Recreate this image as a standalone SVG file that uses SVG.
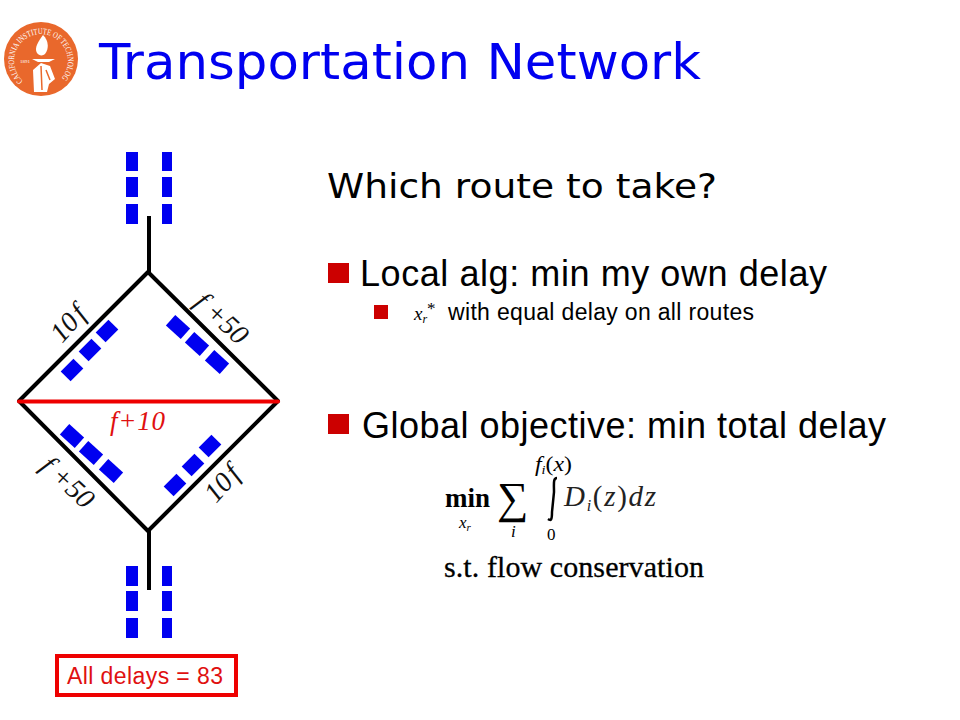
<svg xmlns="http://www.w3.org/2000/svg" width="960" height="720" viewBox="0 0 960 720">
<style>
.road{stroke:#000;stroke-width:4;fill:none}
.car{fill:#0000f0}
.bul{fill:#cc0000}
.sans{font-family:"Liberation Sans",Arial,sans-serif;fill:#000}
.dv{font-family:"DejaVu Sans",sans-serif}
.ser{font-family:"Liberation Serif","Times New Roman",serif;fill:#000}
.it{font-style:italic}
.lab{font-family:"Liberation Serif","Times New Roman",serif;font-style:italic;font-size:28px;fill:#111}
</style>
<rect width="960" height="720" fill="#fff"/>
<g id="logo">
<circle cx="41" cy="59" r="37" fill="#e9682c"/>
<path id="logoArc" d="M19.500 85A32 32 0 1 1 63.500 84" fill="none" transform="translate(41 59) scale(.84) translate(-41 -59)"/>
<text font-family="Liberation Serif,serif" font-size="8.500" fill="#fff"><textPath href="#logoArc" textLength="130" lengthAdjust="spacingAndGlyphs">CALIFORNIA INSTITUTE OF TECHNOLOGY</textPath></text>
<text x="20" y="63" font-family="Liberation Serif,serif" font-size="5" fill="#fff">1891</text>
<path d="M43 35C49 41 49 49 45 54C43 56 39 56 37 53C34 48 38 42 43 35Z" fill="#fff"/>
<path d="M32 59H55L49 62H38Z" fill="#fff"/>
<path d="M33 70L41 63L50 66L55 79L49 84L47 92H34Z" fill="#fff"/>
<path d="M41 66L42 90M46 70L50 80" stroke="#e9682c" stroke-width="1.500" fill="none"/>
</g>
<text id="title" class="dv" x="99" y="79" font-size="50" fill="#0000f0" textLength="602" lengthAdjust="spacingAndGlyphs">Transportation Network</text>

<g id="connectors">
<path class="road" d="M149 216V272M149 531V590"/>
<path class="road" d="M148 272L19 401L148 531L278 401Z" stroke-linejoin="round"/>
<path d="M19 401.500H278" stroke="#ee0000" stroke-width="4" stroke-linecap="round"/>
</g>

<g id="lanes-top" class="car">
<rect x="126" y="152" width="12" height="19"/><rect x="126" y="177" width="12" height="20"/><rect x="126" y="204" width="12" height="20"/>
<rect x="162" y="152" width="10" height="19"/><rect x="162" y="177" width="10" height="20"/><rect x="162" y="204" width="10" height="20"/>
</g>
<g id="lanes-bottom" class="car">
<rect x="126" y="566" width="12" height="20"/><rect x="126" y="591" width="12" height="20"/><rect x="126" y="618" width="12" height="20"/>
<rect x="162" y="566" width="10" height="20"/><rect x="162" y="591" width="10" height="20"/><rect x="162" y="618" width="10" height="20"/>
</g>
<g id="lane-upper-left" class="car">
<rect x="-9" y="-7" width="18" height="14" transform="translate(107 331) rotate(-45)"/>
<rect x="-9" y="-7" width="18" height="14" transform="translate(90 350) rotate(-45)"/>
<rect x="-9" y="-7" width="18" height="14" transform="translate(72 370) rotate(-45)"/>
</g>
<g id="lane-upper-right" class="car">
<rect x="-10" y="-7" width="20" height="14" transform="translate(178 327) rotate(42)"/>
<rect x="-10" y="-7" width="20" height="14" transform="translate(197 344) rotate(42)"/>
<rect x="-10" y="-7" width="20" height="14" transform="translate(217 362) rotate(42)"/>
</g>
<g id="lane-lower-left" class="car">
<rect x="-10" y="-7" width="20" height="14" transform="translate(72 436) rotate(42)"/>
<rect x="-10" y="-7" width="20" height="14" transform="translate(91 453) rotate(42)"/>
<rect x="-10" y="-7" width="20" height="14" transform="translate(111 471) rotate(42)"/>
</g>
<g id="lane-lower-right" class="car">
<rect x="-9" y="-7" width="18" height="14" transform="translate(210 446) rotate(-45)"/>
<rect x="-9" y="-7" width="18" height="14" transform="translate(193 465) rotate(-45)"/>
<rect x="-9" y="-7" width="18" height="14" transform="translate(175 485) rotate(-45)"/>
</g>

<g id="edge-labels">
<text class="lab" transform="translate(62 344) rotate(-48)">10<tspan dx="3">f</tspan></text>
<text class="lab" transform="translate(193 304) rotate(43)" xml:space="preserve">f +50</text>
<text class="lab" transform="translate(39 468) rotate(43)" xml:space="preserve">f +50</text>
<text class="lab" transform="translate(216 504) rotate(-48)">10<tspan dx="3">f</tspan></text>
<text x="110" y="430" font-family="Liberation Serif,serif" font-style="italic" font-size="27" fill="#e01010" textLength="55" lengthAdjust="spacing">f+10</text>
</g>

<g id="delay-box">
<rect x="57" y="656" width="179" height="39" fill="#fff" stroke="#ee0000" stroke-width="4"/>
<text x="67" y="684" font-family="Liberation Sans,sans-serif" font-size="23" fill="#e01010" textLength="156" lengthAdjust="spacing">All delays = 83</text>
</g>

<text id="question" class="dv" x="327" y="198" font-size="33" fill="#000" textLength="390" lengthAdjust="spacingAndGlyphs">Which route to take?</text>

<g id="bullets">
<rect class="bul" x="328" y="263" width="21" height="20"/>
<text class="sans" x="360" y="286" font-size="36" textLength="467" lengthAdjust="spacing">Local alg: min my own delay</text>
<rect class="bul" x="374" y="305" width="14" height="14"/>
<text class="ser it" x="414" y="320" font-size="19">x<tspan font-size="12" dy="3">r</tspan><tspan font-size="17" dy="-9" font-style="normal">*</tspan></text>
<text class="sans" x="448" y="320" font-size="23" textLength="306" lengthAdjust="spacing">with equal delay on all routes</text>
<rect class="bul" x="328" y="414" width="21" height="20"/>
<text class="sans" x="362" y="438" font-size="36" textLength="524" lengthAdjust="spacing">Global objective: min total delay</text>
</g>

<g id="formula" class="ser">
<text x="445" y="507" font-size="28" font-weight="bold" textLength="45" lengthAdjust="spacingAndGlyphs">min</text>
<text class="it" x="459" y="528" font-size="17">x<tspan font-size="11" dy="3">r</tspan></text>
<text x="497" y="513" font-size="44">∑</text>
<text class="it" x="511" y="537" font-size="17">i</text>
<text class="it" x="535" y="471" font-size="20" textLength="37" lengthAdjust="spacingAndGlyphs">f<tspan font-size="12" dy="3">i</tspan><tspan dy="-3" font-style="normal">(</tspan>x<tspan font-style="normal">)</tspan></text>
<path d="M557 478C553 478 554 484 554 492L552 512C552 520 551 521 548 519" fill="none" stroke="#000" stroke-width="2.500"/>
<text x="547" y="540" font-size="17">0</text>
<text class="it" x="564" y="506" font-size="29" fill="#222" textLength="92" lengthAdjust="spacing">D<tspan font-size="16" dy="5">i</tspan><tspan dy="-5" font-style="normal">(</tspan>z<tspan font-style="normal">)</tspan>dz</text>
<text x="444" y="577" font-size="30" stroke="#000" stroke-width=".3" textLength="260" lengthAdjust="spacing">s.t. flow conservation</text>
</g>
</svg>
